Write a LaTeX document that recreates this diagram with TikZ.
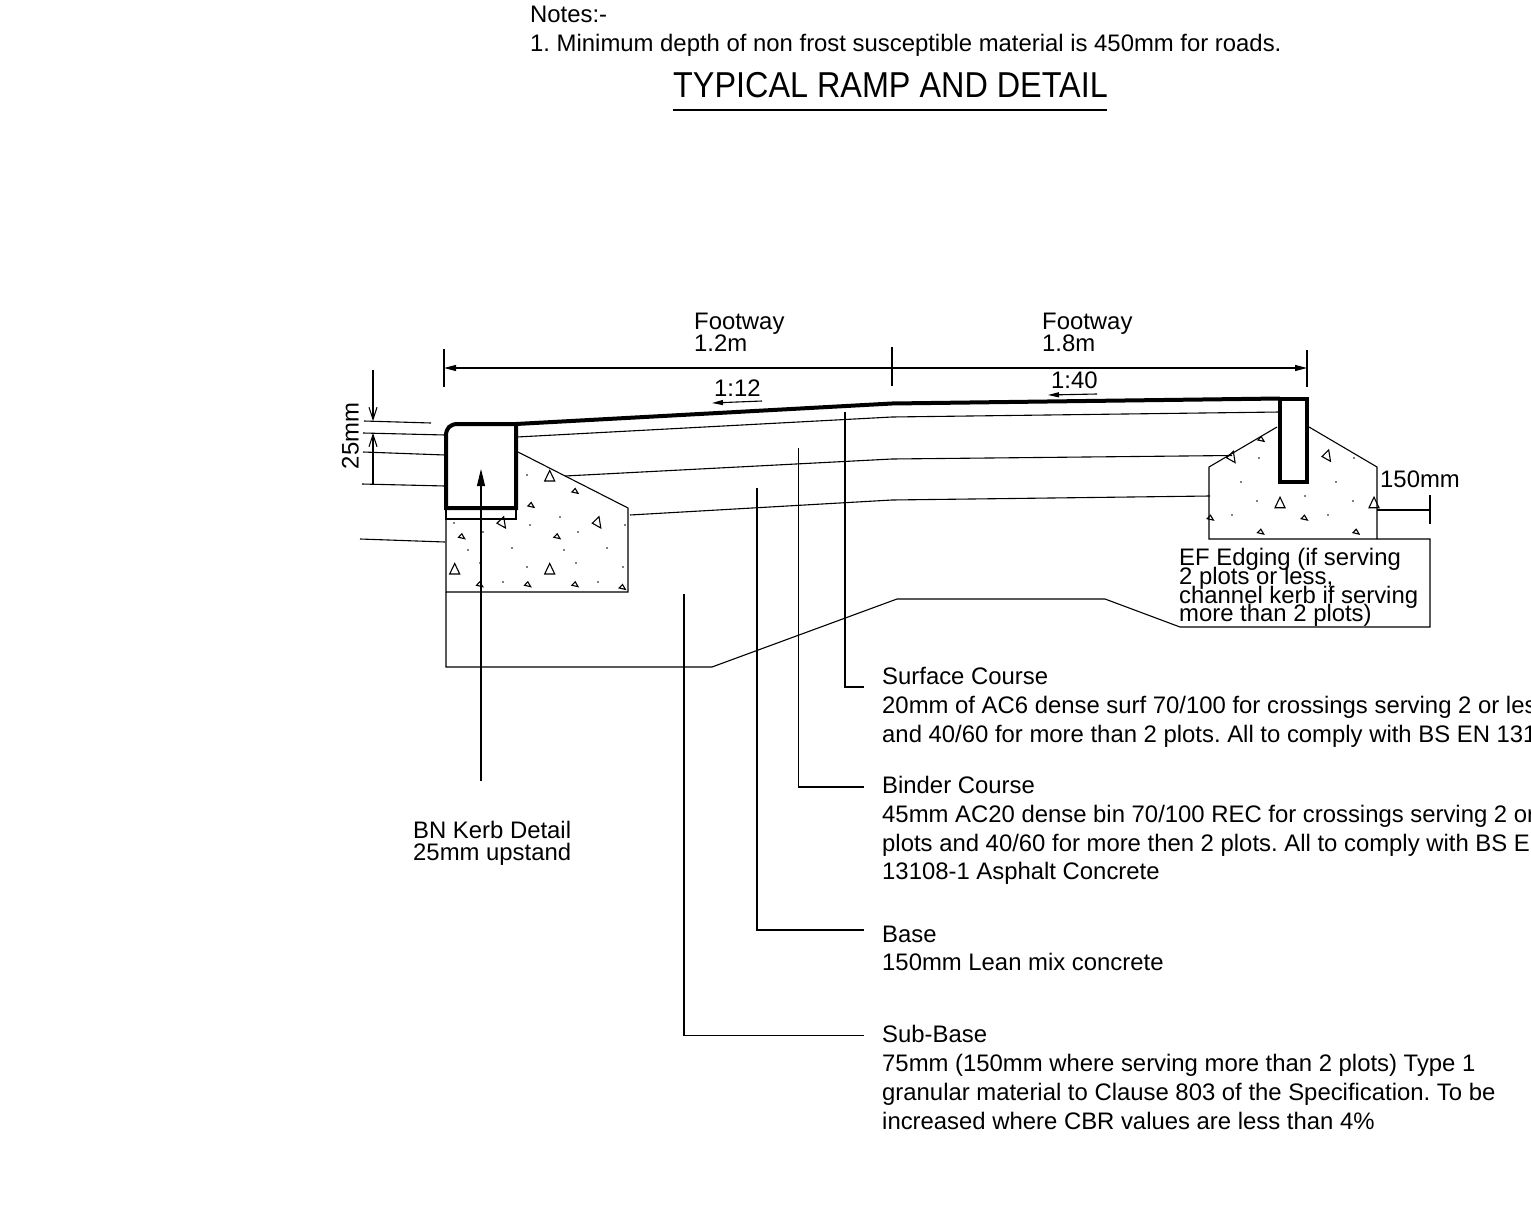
\documentclass[tikz,border=0pt]{standalone}
\usepackage{fontspec}
\setmainfont{Liberation Sans}
\usetikzlibrary{arrows.meta}
\newcommand{\bigtri}[1]{\draw[conc,shift={#1}] (0,-5.5) -- (-5,5) -- (5,5) -- cycle;}
\newcommand{\tilttri}[1]{\draw[conc,shift={#1}] (-4.7,.5) -- (2,-6) -- (3.8,5.3) -- cycle;}
\newcommand{\smalltri}[1]{\draw[conc,shift={#1}] (-2.8,1) -- (.5,-2.5) -- (3.4,2.4) -- cycle;}
\tikzset{
  txt/.style={anchor=base west,inner sep=0pt,font=\fontsize{23.88}{24}\selectfont\frenchspacing,text=black},
  titletxt/.style={anchor=base west,inner sep=0pt,font=\fontsize{36}{36}\selectfont,text=black},
  thinline/.style={line width=1.1pt,black},
  conc/.style={line width=1.1pt,black},
  heavy/.style={line width=4pt,black,line join=miter},
  ahead/.style={-{Triangle[length=12pt,width=6pt]},line width=1.1pt},
  openhead/.style={-{Straight Barb[length=12pt,width=8pt]},line width=1.1pt},
  smallhead/.style={-{Triangle[length=11pt,width=5pt]},line width=1.1pt},
}
\begin{document}
\begin{tikzpicture}[x=1pt,y=-1pt]
\useasboundingbox (0,0) rectangle (1531,1209);
\clip (0,0) rectangle (1531,1209);
\fill[white] (0,0) rectangle (1531,1209);
% texts
\node[txt] (n1) at (530,23) {Notes:-};
\node[txt] (n2) at (530,51.5) {1. Minimum depth of non frost susceptible material is 450mm for roads.};
\node[titletxt] (title) at (673,98) {\scalebox{0.899}[1]{TYPICAL RAMP AND DETAIL}};
\coordinate (tl) at (673,110); \coordinate (tr) at (1107,110);
\draw[line width=2.2pt] (tl) -- (tr);
\node[txt] (f1a) at (694,329) {Footway};
\node[txt] (f1b) at (694,351) {1.2m};
\node[txt] (f2a) at (1042,329) {Footway};
\node[txt] (f2b) at (1042,351) {1.8m};
\node[txt] (s1) at (714,396) {1:12};
\node[txt] (s2) at (1051,388) {1:40};
\node[txt,rotate=90,anchor=base] (d25) at (358.5,436) {25mm};
\node[txt] (d150) at (1380,487) {150mm};
\node[txt] (ef1) at (1179,565) {EF Edging (if serving};
\node[txt] (ef2) at (1179,584) {2 plots or less,};
\node[txt] (ef3) at (1179,603) {channel kerb if serving};
\node[txt] (ef4) at (1179,621) {more than 2 plots)};
\node[txt] (bn1) at (413,838.5) {BN Kerb Detail};
\node[txt] (bn2) at (413,860.5) {25mm upstand};
\node[txt] (sc1) at (882,684) {Surface Course};
\node[txt] (sc2) at (882,713) {20mm of AC6 dense surf 70/100 for crossings serving 2 or less};
\node[txt] (sc3) at (882,742) {and 40/60 for more than 2 plots. All to comply with BS EN 13108-1};
\node[txt] (bc1) at (882,793) {Binder Course};
\node[txt] (bc2) at (882,822) {45mm AC20 dense bin 70/100 REC for crossings serving 2 or less};
\node[txt] (bc3) at (882,851) {plots and 40/60 for more then 2 plots. All to comply with BS EN};
\node[txt] (bc4) at (882,879.5) {13108-1 Asphalt Concrete};
\node[txt] (b1) at (882,942) {Base};
\node[txt] (b2) at (882,970.5) {150mm Lean mix concrete};
\node[txt] (sb1) at (882,1042.5) {Sub-Base};
\node[txt] (sb2) at (882,1071) {75mm (150mm where serving more than 2 plots) Type 1};
\node[txt] (sb3) at (882,1100) {granular material to Clause 803 of the Specification. To be};
\node[txt] (sb4) at (882,1129) {increased where CBR values are less than 4\%};
% concrete left
\draw[conc] (518,452) -- (628,508) -- (628,592) -- (446,592) -- (446,508);
% concrete right
\draw[conc] (1277,427) -- (1209,467) -- (1209,539) -- (1377,539) -- (1377,467) -- (1309,427);
% fill pattern left
\foreach \p in {(549.7,476),(454.7,569),(549.7,569)} {\bigtri{\p}}
\foreach \p in {(501.7,522.7),(597,522.7)} {\tilttri{\p}}
\foreach \p in {(574.7,491),(530.7,505),(461.3,536.3),(556.7,536.3),(479.3,584.3),(527.3,584.3),(574.7,584.3),(622,587)} {\smalltri{\p}}
% fill pattern right
\foreach \p in {(1280,502.7),(1374,502.7)} {\bigtri{\p}}
\foreach \p in {(1231.3,457.3),(1326.7,456)} {\tilttri{\p}}
\foreach \p in {(1260.7,439),(1304,517.7),(1260.3,531.7),(1355.7,531.7),(1210,517.7)} {\smalltri{\p}}
\foreach \x/\y in {527/475,560/517,625/525,454/523,483/532,530/525,578/532,468/550,512/548,564/550,607/548,480/563,527/567,576/563,623/567,503/582,598/582,
1259/458,1354/458,1241/482,1336/482,1257/501,1305/496,1353/501,1232/515,1328/515}
  {\fill (\x,\y) circle (.9pt);}
% courses
\coordinate (s0) at (516,424); \coordinate (s1c) at (892,403.5); \coordinate (s2c) at (1280,398.5);
\draw[heavy] (s0) -- (s1c) -- (s2c);
\draw[thinline] (517,437) -- (892,417) -- (1280,412);
\draw[thinline] (565,476) -- (892,459) -- (1232,455.5);
\draw[thinline] (630,515) -- (892,500) -- (1210,496);
% sub-base outline
\draw[thinline] (446,592) -- (446,667) -- (712,667) -- (897,599) -- (1105,599) -- (1180,627) -- (1430,627) -- (1430,539) -- (1377,539);
% kerbs
\draw[heavy] (446,508) -- (446,436) .. controls (446,428) and (450,424) .. (458,424) -- (516,424) -- (516,508) -- cycle;
\draw[thinline] (446,508) -- (446,519) -- (516,519) -- (516,508);
\draw[heavy] (1280,398.5) -- (1307,398.5) -- (1307,482) -- (1280,482) -- cycle;
% overall dimension
\coordinate (d0) at (444,368); \coordinate (d1) at (892,368); \coordinate (d2) at (1307,368);
\draw[thinline] (444,349) -- (444,387);
\draw[thinline] (892,347) -- (892,386);
\draw[thinline] (1307,350) -- (1307,387);
\draw[ahead] (d1) -- (d0);
\draw[ahead] (d1) -- (d2);
% slope arrows
\coordinate (a1) at (762,401); \coordinate (a2) at (712,403);
\coordinate (a3) at (1097,394); \coordinate (a4) at (1048,395);
\draw[smallhead] (a1) -- (a2);
\draw[smallhead] (a3) -- (a4);
% 25mm dimension
\coordinate (e1) at (373,370); \coordinate (e2) at (373,421);
\coordinate (e3) at (373,484); \coordinate (e4) at (373,433);
\draw[openhead] (e1) -- (e2);
\draw[openhead] (e3) -- (e4);
\draw[thinline] (364,421) -- (431,423);
\draw[thinline] (363,433) -- (445,435);
\draw[thinline] (363,452) -- (445,455);
\draw[thinline] (362,484) -- (445,486);
\draw[thinline] (360,539) -- (445,542);
% 150mm dimension
\draw[thinline] (1377,510) -- (1430,510);
\draw[thinline] (1430,495) -- (1430,524);
% BN kerb arrow
\coordinate (k1) at (481,781); \coordinate (k2) at (481,469);
\draw[-{Triangle[length=17pt,width=8pt]},line width=1.1pt] (k1) -- (k2);
% leaders
\coordinate (l1) at (845,412); \coordinate (l2) at (864,687);
\coordinate (l3) at (798.5,448); \coordinate (l4) at (864,787);
\coordinate (l5) at (757,488); \coordinate (l6) at (864,930);
\coordinate (l7) at (684,594); \coordinate (l8) at (864,1035.5);
\draw[thinline] (l1) |- (l2);
\draw[thinline] (l3) |- (l4);
\draw[thinline] (l5) |- (l6);
\draw[thinline] (l7) |- (l8);
\end{tikzpicture}
\end{document}
